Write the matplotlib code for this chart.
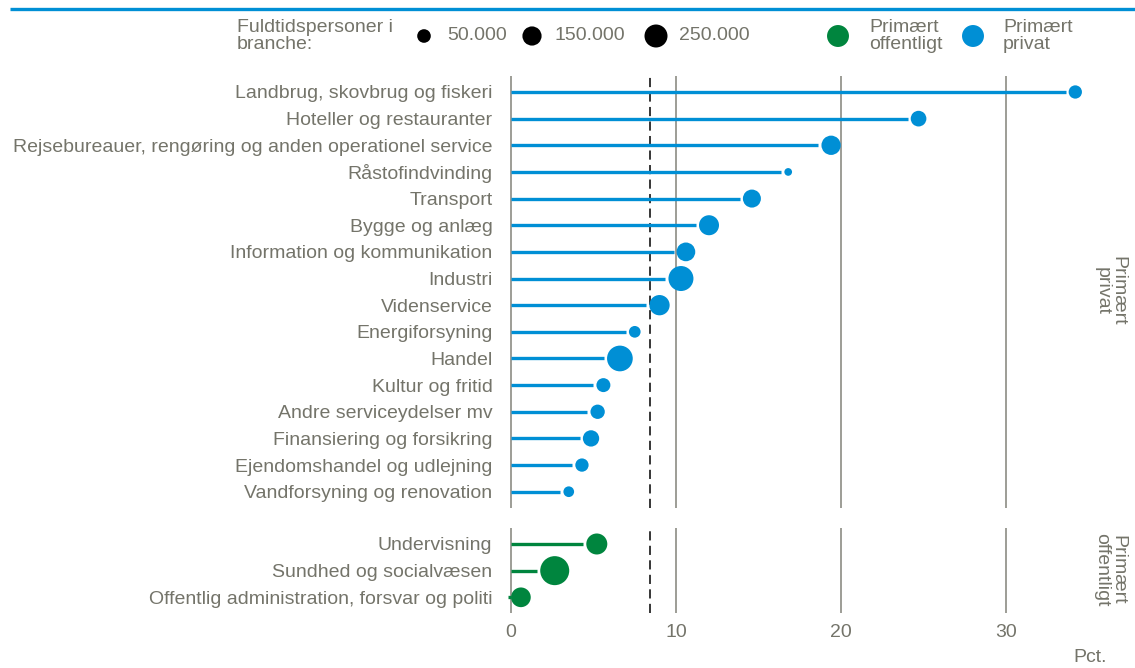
import numpy as np
import matplotlib.pyplot as plt

plt.rcParams['font.family'] = ['Liberation Sans', 'DejaVu Sans']

# primært private brancher (top to bottom)
privat_navne = ['Landbrug, skovbrug og fiskeri', 'Hoteller og restauranter',
                'Rejsebureauer, rengøring og anden operationel service', 'Råstofindvinding',
                'Transport', 'Bygge og anlæg', 'Information og kommunikation', 'Industri',
                'Videnservice', 'Energiforsyning', 'Handel', 'Kultur og fritid',
                'Andre serviceydelser mv', 'Finansiering og forsikring',
                'Ejendomshandel og udlejning', 'Vandforsyning og renovation']
privat_pct = [34.2, 24.7, 19.4, 16.8, 14.6, 12.0, 10.6, 10.3, 9.0, 7.5, 6.6, 5.6, 5.25, 4.85, 4.3, 3.5]
privat_pers = [46000, 81000, 153000, 2500, 125000, 170000, 140000, 312000, 177000,
               28000, 336000, 55000, 60000, 92000, 46000, 19000]

# primært offentlige brancher
off_navne = ['Undervisning', 'Sundhed og socialvæsen', 'Offentlig administration, forsvar og politi']
off_pct = [5.2, 2.65, 0.6]
off_pers = [195000, 458000, 162000]

gennemsnit = 8.4
legend_pers = [50000, 150000, 250000]
legend_tekst = ['50.000', '150.000', '250.000']

BLUE = '#008fd5'
GREEN = '#00853e'
GRID = '#8c8c84'
TXT = '#74746a'
FS = 14

W_PX, H_PX = 1135, 668
XMIN, XMAX = -1, 35.5


def diam(n):
    # dot diameter in pixels
    return 6 + 0.034 * np.sqrt(np.asarray(n, dtype=float))


def s_of(n):
    return (diam(n) * 0.72) ** 2


fig = plt.figure(figsize=(W_PX / 100, H_PX / 100), dpi=100)

left = 494.5 / W_PX
width = 602.25 / W_PX
ax1 = fig.add_axes([left, 1 - 507.7 / H_PX, width, 431.7 / H_PX])
ax2 = fig.add_axes([left, 1 - 613.3 / H_PX, width, 85.3 / H_PX])
px_unit = width * W_PX / (XMAX - XMIN)


def panel(ax, navne, pct, pers, col):
    n = len(navne)
    y = np.arange(n)
    pct = np.asarray(pct)
    for g in [0, 10, 20, 30]:
        ax.axvline(g, color=GRID, lw=1.2, zorder=1)
    ax.axvline(gennemsnit, color='black', lw=1.1, ls=(0, (6, 3.5)), zorder=2)
    ends = pct - (diam(pers) / 2 + 3) / px_unit
    ax.hlines(y, 0, ends, color=col, lw=2.4, zorder=3)
    ax.scatter(pct, y, s=s_of(pers), color=col, lw=0, zorder=4)
    ax.set_xlim(XMIN, XMAX)
    ax.set_ylim(n - 1 + 0.6, -0.6)
    ax.set_yticks(y)
    ax.set_yticklabels(navne, fontsize=FS, color=TXT)
    ax.set_xticks([0, 10, 20, 30])
    ax.tick_params(length=0, pad=1.5)
    for sp in ax.spines.values():
        sp.set_visible(False)


panel(ax1, privat_navne, privat_pct, privat_pers, BLUE)
panel(ax2, off_navne, off_pct, off_pers, GREEN)
ax1.set_xticklabels([])
ax2.set_xticklabels(['0', '10', '20', '30'], fontsize=FS, color=TXT)
ax2.tick_params(axis='x', pad=8)

# facet labels
fig.text(1110 / W_PX, 1 - 291 / H_PX, 'Primært\nprivat', rotation=-90, ha='center', va='center',
         fontsize=FS, color=TXT, linespacing=0.95)
fig.text(1110 / W_PX, 1 - 570 / H_PX, 'Primært\noffentligt', rotation=-90, ha='center', va='center',
         fontsize=FS, color=TXT, linespacing=0.95)
fig.text(1090 / W_PX, 1 - 657 / H_PX, 'Pct.', ha='center', va='center', fontsize=FS, color=TXT)

# legend / header in pixel coordinates
lax = fig.add_axes([0, 0, 1, 1], zorder=-1)
lax.set_xlim(0, W_PX)
lax.set_ylim(H_PX, 0)
lax.axis('off')
lax.plot([10, W_PX], [9, 9], color=BLUE, lw=2.4, solid_capstyle='butt')
lax.text(237, 36, 'Fuldtidspersoner i\nbranche:', ha='left', va='center', fontsize=FS,
         color=TXT, linespacing=0.95)
lx = [424, 532, 656]
lax.scatter(lx, [36] * 3, s=s_of(legend_pers), color='black', lw=0)
for x, t in zip(lx, legend_tekst):
    lax.text(x + 23, 36, t, ha='left', va='center', fontsize=FS, color=TXT)
lax.scatter([838, 973], [36, 36], s=s_of([220000, 220000]), color=[GREEN, BLUE], lw=0)
lax.text(869, 36, 'Primært\noffentligt', ha='left', va='center', fontsize=FS, color=TXT, linespacing=0.95)
lax.text(1003, 36, 'Primært\nprivat', ha='left', va='center', fontsize=FS, color=TXT, linespacing=0.95)

fig.savefig('out.png', dpi=100)
